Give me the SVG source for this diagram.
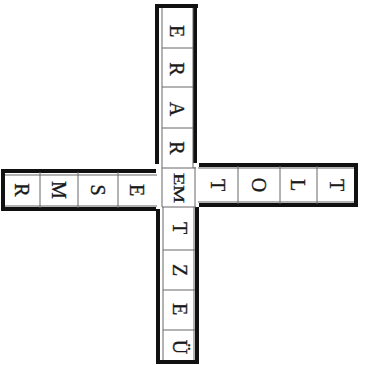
<svg xmlns="http://www.w3.org/2000/svg" width="369" height="365" viewBox="0 0 369 365">
<style>
.thick{stroke:#111;stroke-width:4;fill:none;stroke-linecap:butt}
.thin{stroke:#666;stroke-width:1;fill:none}
.t{font-family:"Liberation Serif","Times New Roman",serif;font-size:20px;fill:#1a1a1a;stroke:#1a1a1a;stroke-width:0.35;text-anchor:middle;dominant-baseline:central}
.em{font-size:15px}
</style>
<rect width="369" height="365" fill="#fff"/>
<g id="connectors">
<path class="thick" d="M155 6 H198"/>
<path class="thick" d="M157 5 V164"/>
<path class="thick" d="M195 5 V163"/>
<path class="thin" d="M162 8 V168 M193 8 V168"/>
<path class="thick" d="M158 209 V364"/>
<path class="thick" d="M197 207 V364"/>
<path class="thick" d="M156 362 H199"/>
<path class="thin" d="M163 207 V360 M194 207 V360"/>
<path class="thick" d="M1 171 H156"/>
<path class="thick" d="M2 209 H156"/>
<path class="thick" d="M3 169 V211"/>
<path class="thin" d="M5 175 H157 M5 206 H157"/>
<path class="thick" d="M199 165 H357"/>
<path class="thick" d="M199 205 H357"/>
<path class="thick" d="M356 163 V207"/>
<path class="thin" d="M198 168 H354 M198 202 H354"/>
<path class="thin" d="M162 168 V207 M195 167 V207 M162 168 H196 M162 207 H196"/>
</g>
<g id="dividers">
<path class="thin" d="M162 48 H193 M162 87 H193 M162 128 H193"/>
<path class="thin" d="M163 250 H195 M163 290 H195 M163 330 H195"/>
<path class="thin" d="M40 172 V208 M78 172 V208 M118 172 V208"/>
<path class="thin" d="M238 166 V204 M280 166 V204 M317 166 V204"/>
</g>
<g id="n-E1"><text class="t" x="177" y="31" transform="rotate(90 177 31)">E</text></g>
<g id="n-R1"><text class="t" x="177" y="69" transform="rotate(90 177 69)">R</text></g>
<g id="n-A"><text class="t" x="177" y="109" transform="rotate(90 177 109)">A</text></g>
<g id="n-R2"><text class="t" x="177" y="148" transform="rotate(90 177 148)">R</text></g>
<g id="n-EM"><text class="t em" x="179" y="188" transform="rotate(90 179 188)" textLength="30" lengthAdjust="spacingAndGlyphs">EM</text></g>
<g id="n-T1"><text class="t" x="180" y="228" transform="rotate(90 180 228)">T</text></g>
<g id="n-Z"><text class="t" x="180" y="270" transform="rotate(90 180 270)">Z</text></g>
<g id="n-E2"><text class="t" x="180" y="309" transform="rotate(90 180 309)">E</text></g>
<g id="n-U"><text class="t" x="180" y="347" transform="rotate(90 180 347)">Ü</text></g>
<g id="n-R3"><text class="t" x="22" y="190" transform="rotate(90 22 190)">R</text></g>
<g id="n-M"><text class="t" x="59" y="190" transform="rotate(90 59 190)">M</text></g>
<g id="n-S"><text class="t" x="98" y="190" transform="rotate(90 98 190)">S</text></g>
<g id="n-E3"><text class="t" x="137" y="190" transform="rotate(90 137 190)">E</text></g>
<g id="n-T2"><text class="t" x="218" y="185" transform="rotate(90 218 185)">T</text></g>
<g id="n-O"><text class="t" x="259" y="185" transform="rotate(90 259 185)">O</text></g>
<g id="n-L"><text class="t" x="298" y="185" transform="rotate(90 298 185)">L</text></g>
<g id="n-T3"><text class="t" x="337" y="185" transform="rotate(90 337 185)">T</text></g>
</svg>
